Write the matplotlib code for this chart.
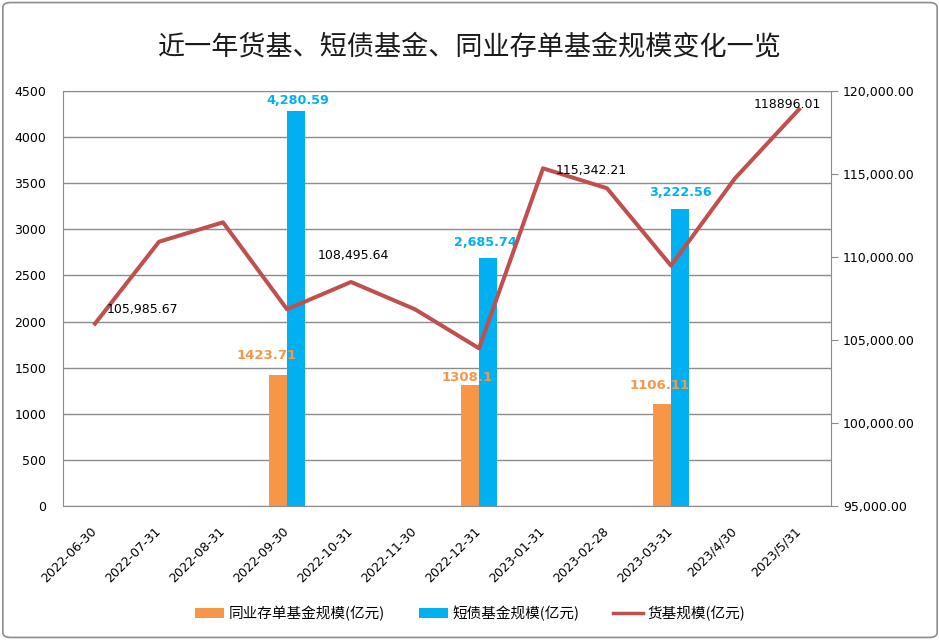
import matplotlib
matplotlib.use("Agg")
import matplotlib.pyplot as plt
import numpy as np
from matplotlib.patches import FancyBboxPatch, Patch
from matplotlib.lines import Line2D
from matplotlib.ticker import FuncFormatter
from matplotlib.transforms import ScaledTranslation

CJK = ['Noto Sans CJK SC', 'DejaVu Sans']

categories = ['2022-06-30', '2022-07-31', '2022-08-31', '2022-09-30', '2022-10-31',
              '2022-11-30', '2022-12-31', '2023-01-31', '2023-02-28', '2023-03-31',
              '2023/4/30', '2023/5/31']
ncd_fund = [None, None, None, 1423.71, None, None, 1308.1, None, None, 1106.11, None, None]
short_bond = [None, None, None, 4280.59, None, None, 2685.74, None, None, 3222.56, None, None]
money_fund = [105985.67, 110920, 112090, 106850, 108495.64, 106850, 104500,
              115342.21, 114140, 109480, 114740, 118896.01]

ncd_labels = {3: '1423.71', 6: '1308.1', 9: '1106.11'}
bond_labels = {3: '4,280.59', 6: '2,685.74', 9: '3,222.56'}
line_labels = {0: '105,985.67', 4: '108,495.64', 7: '115,342.21', 11: '118896.01'}

c_orange = '#F79646'
c_blue = '#00B0F0'
c_red = '#C0504D'

PT = 72 / 100  # points per pixel at dpi 100

fig = plt.figure(figsize=(9.4, 6.4), dpi=100)
ax = fig.add_axes([63/940, 1-506/640, (831-63)/940, (506-91)/640])
ax2 = ax.twinx()

x = np.arange(len(categories))
w = 0.28
# label offsets in pixels (dx, dy) relative to bar top centre
ncd_off = {3: (-11, 19), 6: (-3, 8), 9: (-2, 18)}
bond_off = {3: (2, 11), 6: (-3, 16), 9: (0, 16)}
for i in range(len(categories)):
    if ncd_fund[i] is not None:
        ax.bar(x[i] - w/2, ncd_fund[i], width=w, color=c_orange, zorder=3)
        dx, dy = ncd_off[i]
        ax.annotate(ncd_labels[i], xy=(x[i] - w/2, ncd_fund[i]), xytext=(dx*PT, dy*PT),
                    textcoords='offset points', color=c_orange, ha='center', va='center',
                    fontsize=9.5, fontweight='bold', zorder=6)
    if short_bond[i] is not None:
        ax.bar(x[i] + w/2, short_bond[i], width=w, color=c_blue, zorder=3)
        dx, dy = bond_off[i]
        ax.annotate(bond_labels[i], xy=(x[i] + w/2, short_bond[i]), xytext=(dx*PT, dy*PT),
                    textcoords='offset points', color=c_blue, ha='center', va='center',
                    fontsize=9.2, fontweight='bold', zorder=6)

ax.set_xlim(-0.5, len(categories) - 0.5)
ax.set_ylim(0, 4500)
ax.set_yticks(np.arange(0, 4501, 500))
ax.grid(axis='y', color='#8c8c8c', linewidth=1.0, zorder=0)
ax.set_axisbelow(True)
ax.tick_params(axis='y', length=0, labelsize=9, pad=12)
ax.tick_params(axis='x', length=0, labelsize=9)
ax.set_xticks(x)
ax.set_xticklabels(categories, rotation=45, ha='right', rotation_mode='anchor')
shift = ScaledTranslation(-5/100, -14/100, fig.dpi_scale_trans)
for lab in ax.get_xticklabels():
    lab.set_transform(lab.get_transform() + shift)
for s in ['left', 'top', 'bottom']:
    ax.spines[s].set_color('#8c8c8c')
ax.spines['right'].set_visible(False)

ax2.plot(x, money_fund, color=c_red, linewidth=2.9, zorder=5)
ax2.set_ylim(95000, 120000)
ax2.set_yticks(np.arange(95000, 120001, 5000))
ax2.yaxis.set_major_formatter(FuncFormatter(lambda v, p: f'{v:,.2f}'))
ax2.tick_params(axis='y', length=5, direction='out', color='#8c8c8c', labelsize=9)
ax2.spines['right'].set_color('#8c8c8c')
for s in ['left', 'top', 'bottom']:
    ax2.spines[s].set_visible(False)

# line label offsets in pixels (dx to left edge, dy to centre; up positive)
line_off = {0: (12, 14), 4: (-33, 26), 7: (13, -2), 11: (-45, 5)}
for i, t in line_labels.items():
    dx, dy = line_off[i]
    ax2.annotate(t, xy=(x[i], money_fund[i]), xytext=(dx*PT, dy*PT), textcoords='offset points',
                 fontsize=9, ha='left', va='center', color='black', zorder=7)

fig.text(0.5, 1-47/640, '近一年货基、短债基金、同业存单基金规模变化一览', fontsize=19.5,
         ha='center', va='center', family=CJK, color='#1a1a1a')

handles = [Patch(facecolor=c_orange), Patch(facecolor=c_blue),
           Line2D([0], [0], color=c_red, linewidth=2.5)]
labels = ['同业存单基金规模(亿元)', '短债基金规模(亿元)', '货基规模(亿元)']
leg = fig.legend(handles, labels, loc='center', bbox_to_anchor=(470/940, 1-613/640), ncol=3,
                 frameon=False, prop={'family': CJK, 'size': 10.5}, columnspacing=2.3,
                 handlelength=2.0, handleheight=0.7, handletextpad=0.35)

border = FancyBboxPatch((0.003, 0.004), 0.994, 0.992, boxstyle='round,pad=0,rounding_size=0.008',
                        transform=fig.transFigure, fill=False, edgecolor='#8c8c8c', linewidth=1.2)
fig.patches.append(border)

fig.savefig('out.png', dpi=100)
